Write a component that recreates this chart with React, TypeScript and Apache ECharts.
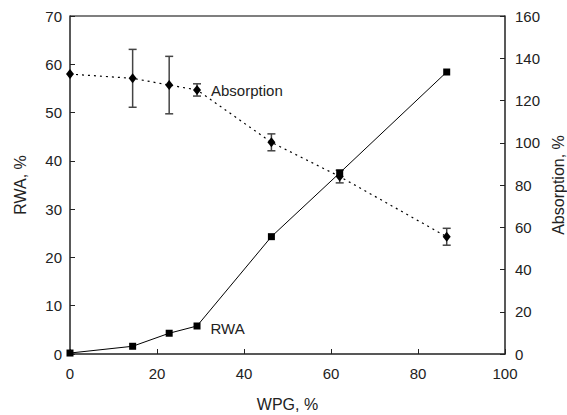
import React, { useEffect, useRef } from "react";
import * as echarts from "echarts";

const wpg = [0, 14.4, 22.8, 29.2, 46.3, 62, 86.6];
const rwa = [0.2, 1.6, 4.3, 5.8, 24.3, 37.5, 58.4];
const absorption = [132.5, 130.5, 127.3, 125, 100.2, 84, 55.5];
const absErr = [0, 13.7, 13.6, 2.9, 4, 3, 4];

const FONT = "'Liberation Sans', Arial, sans-serif";
const TXT = "#222";

export default function App() {
  const ref = useRef<HTMLDivElement>(null);
  useEffect(() => {
    const chart = echarts.init(ref.current!, null, { renderer: "svg" });
    const labelIdx = 3;
    chart.setOption({
      animation: false,
      grid: { left: 70, right: 62, top: 16, bottom: 61, outerBoundsMode: "none", containLabel: false },
      xAxis: {
        type: "value",
        min: 0,
        max: 100,
        interval: 20,
        name: "WPG, %",
        nameLocation: "middle",
        nameGap: 42,
        nameTextStyle: { fontFamily: FONT, fontSize: 16, color: TXT },
        axisLine: { show: true, lineStyle: { color: "#222", width: 1.5 } },
        axisTick: { show: true, inside: true, length: 5, lineStyle: { color: "#222" } },
        axisLabel: { fontFamily: FONT, fontSize: 15, color: TXT, margin: 12 },
        splitLine: { show: false },
      },
      yAxis: [
        {
          type: "value",
          min: 0,
          max: 70,
          interval: 10,
          name: "RWA, %",
          nameLocation: "middle",
          nameGap: 42,
          nameTextStyle: { fontFamily: FONT, fontSize: 16, color: TXT },
          axisLine: { show: true, lineStyle: { color: "#222", width: 1.5 } },
          axisTick: { show: true, inside: true, length: 5, lineStyle: { color: "#222" } },
          axisLabel: { fontFamily: FONT, fontSize: 15, color: TXT, margin: 8 },
          splitLine: { show: false },
        },
        {
          type: "value",
          min: 0,
          max: 160,
          interval: 20,
          name: "Absorption, %",
          nameLocation: "middle",
          nameGap: 44,
          nameRotate: 90,
          nameTextStyle: { fontFamily: FONT, fontSize: 16, color: TXT },
          axisLine: { show: true, lineStyle: { color: "#222", width: 1.5 } },
          axisTick: { show: true, inside: true, length: 5, lineStyle: { color: "#222" } },
          axisLabel: { fontFamily: FONT, fontSize: 15, color: TXT, margin: 10 },
          splitLine: { show: false },
        },
      ],
      graphic: [
        {
          type: "line",
          shape: { x1: 70, y1: 16, x2: 505, y2: 16 },
          style: { stroke: "#555", lineWidth: 1.5 },
        },
      ],
      series: [
        {
          type: "line",
          name: "RWA",
          yAxisIndex: 0,
          data: wpg.map((x, i) =>
            i === labelIdx
              ? {
                  value: [x, rwa[i]],
                  label: {
                    show: true,
                    position: "right",
                    distance: 10,
                    offset: [0, 3],
                    formatter: "RWA",
                    fontFamily: FONT,
                    fontSize: 15,
                    color: TXT,
                  },
                }
              : [x, rwa[i]]
          ),
          symbol: "rect",
          symbolSize: 7,
          itemStyle: { color: "#000" },
          lineStyle: { color: "#000", width: 1 },
          z: 3,
        },
        {
          type: "line",
          name: "Absorption",
          yAxisIndex: 1,
          data: wpg.map((x, i) =>
            i === labelIdx
              ? {
                  value: [x, absorption[i]],
                  label: {
                    show: true,
                    position: "right",
                    distance: 10,
                    offset: [0, 1],
                    formatter: "Absorption",
                    fontFamily: FONT,
                    fontSize: 15,
                    color: TXT,
                  },
                }
              : [x, absorption[i]]
          ),
          symbol: "diamond",
          symbolSize: [8, 10],
          itemStyle: { color: "#000" },
          lineStyle: { color: "#000", width: 1.2, type: [2, 4] },
          z: 4,
        },
        {
          type: "custom",
          name: "err",
          yAxisIndex: 1,
          data: wpg.map((x, i) => [x, absorption[i] - absErr[i], absorption[i] + absErr[i]]),
          renderItem: (params: any, api: any) => {
            const lo = api.coord([api.value(0), api.value(1)]);
            const hi = api.coord([api.value(0), api.value(2)]);
            if (Math.abs(hi[1] - lo[1]) < 1) return { type: "group", children: [] };
            const w = 4;
            const st = { stroke: "#444", lineWidth: 1.5 };
            return {
              type: "group",
              children: [
                { type: "line", shape: { x1: lo[0], y1: lo[1], x2: hi[0], y2: hi[1] }, style: st },
                { type: "line", shape: { x1: lo[0] - w, y1: lo[1], x2: lo[0] + w, y2: lo[1] }, style: st },
                { type: "line", shape: { x1: hi[0] - w, y1: hi[1], x2: hi[0] + w, y2: hi[1] }, style: st },
              ],
            };
          },
          encode: { x: 0, y: [1, 2] },
          z: 2,
        },
      ],
    });
    return () => chart.dispose();
  }, []);
  return (
    <div
      ref={ref}
      style={{ position: "absolute", left: 0, top: 0, width: 567, height: 415 }}
    />
  );
}
